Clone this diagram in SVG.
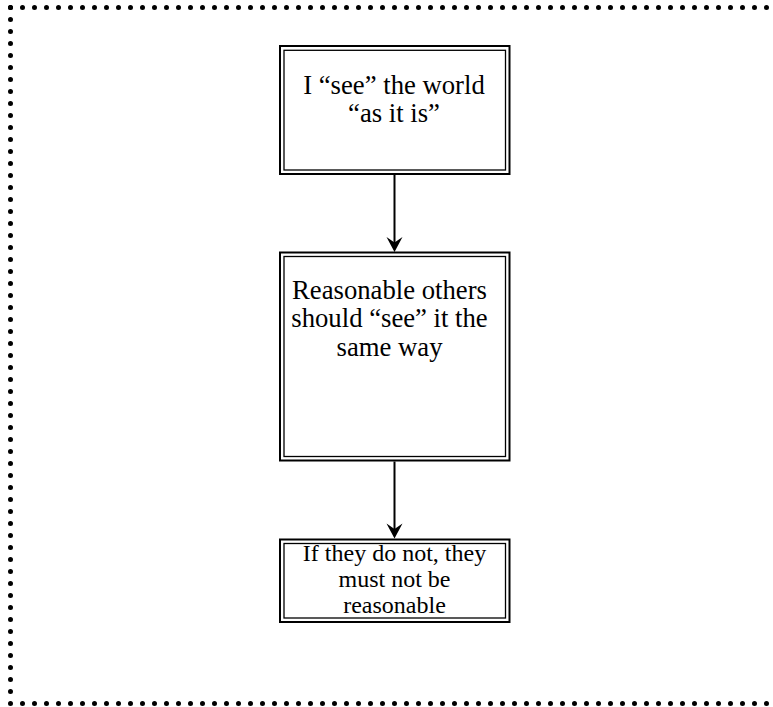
<svg xmlns="http://www.w3.org/2000/svg" width="773" height="707" viewBox="0 0 773 707">
  <style>
    .frame { fill: none; stroke: #000; stroke-width: 5; stroke-linecap: round; stroke-dasharray: 0 12; }
    .outer { fill: #fff; stroke: #000; stroke-width: 2; }
    .inner { fill: none; stroke: #000; stroke-width: 1.3; }
    .lbl { font-family: "Liberation Serif", "Times New Roman", serif; fill: #000; text-anchor: middle; }
    .big { font-size: 26.7px; }
    .small { font-size: 24px; }
    .conn line { stroke: #000; stroke-width: 2; }
    .conn path { fill: #000; stroke: none; }
  </style>

  <rect width="773" height="707" fill="#fff"/>

  <!-- dotted frame (right side runs off the page) -->
  <path class="frame" d="M10.5,7.5 H790"/>
  <path class="frame" d="M10.5,7.5 V703.5 H790"/>

  <!-- connectors -->
  <g id="connectors" class="conn">
    <line x1="394.5" y1="175" x2="394.5" y2="243"/>
    <path d="M394.5,252 L386.5,237 L394.5,242.5 L402.5,237 Z"/>
    <line x1="394.5" y1="461.5" x2="394.5" y2="529"/>
    <path d="M394.5,538.5 L386.5,523.5 L394.5,529 L402.5,523.5 Z"/>
  </g>

  <!-- step 1 -->
  <g id="node-see">
    <rect class="outer" x="280" y="46" width="229.5" height="128"/>
    <rect class="inner" x="284" y="50.3" width="221.5" height="119.7"/>
    <text class="lbl big" x="394" y="93.5">I “see” the world</text>
    <text class="lbl big" x="394" y="122">“as it is”</text>
  </g>

  <!-- step 2 -->
  <g id="node-others">
    <rect class="outer" x="280" y="252.5" width="229.5" height="208"/>
    <rect class="inner" x="284" y="256.5" width="221.5" height="200"/>
    <text class="lbl big" x="389.5" y="298.5">Reasonable others</text>
    <text class="lbl big" x="389.5" y="327">should “see” it the</text>
    <text class="lbl big" x="389.5" y="355.5">same way</text>
  </g>

  <!-- step 3 -->
  <g id="node-conclusion">
    <rect class="outer" x="280" y="539.5" width="229.5" height="82.5"/>
    <rect class="inner" x="284" y="543.5" width="221.5" height="74.5"/>
    <text class="lbl small" x="394.5" y="560.5">If they do not, they</text>
    <text class="lbl small" x="394.5" y="586.5">must not be</text>
    <text class="lbl small" x="394.5" y="612.5">reasonable</text>
  </g>
</svg>
